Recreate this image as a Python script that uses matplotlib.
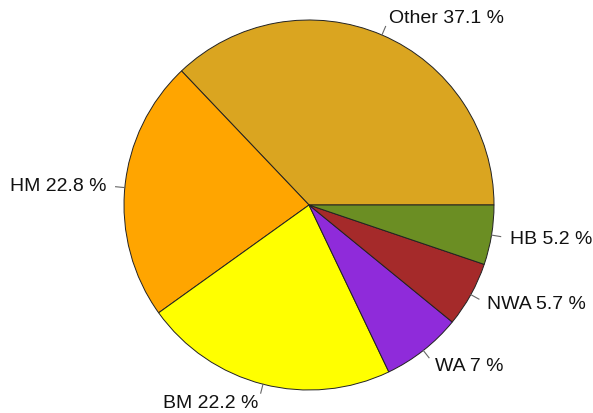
import matplotlib as mpl
mpl.use("Agg")
import matplotlib.pyplot as plt
import numpy as np

mpl.rcParams["font.family"] = ["Liberation Sans", "DejaVu Sans"]

# ── Data ──────────────────────────────────────────────────────────────────────
REGIONS = ["Other", "HM", "BM", "WA", "NWA", "HB"]
SHARES = [37.1, 22.8, 22.2, 7, 5.7, 5.2]
LABELS = ["Other 37.1 %", "HM 22.8 %", "BM 22.2 %", "WA 7 %", "NWA 5.7 %", "HB 5.2 %"]
COLORS = ["#DAA520", "#FFA500", "#FFFF00", "#8F2BDA", "#A52A2A", "#6B8E23"]

W, H = 593, 414
CX, CY = 309, H - 206
R = 185

fig = plt.figure(figsize=(W / 100, H / 100), dpi=100)
ax = fig.add_axes([0, 0, 1, 1])

wedges, _ = ax.pie(SHARES, colors=COLORS, startangle=0, counterclock=True,
                   radius=R, center=(CX, CY), frame=True,
                   wedgeprops=dict(edgecolor="#222222", linewidth=0.7))
ax.set_xlim(0, W)
ax.set_ylim(0, H)
ax.set_aspect("equal")
ax.axis("off")

# R-style labels: tick from 1.0 to 1.05, text at 1.1
for w, lab in zip(wedges, LABELS):
    ang = np.deg2rad((w.theta1 + w.theta2) / 2)
    c, s = np.cos(ang), np.sin(ang)
    ax.plot([CX + R * c, CX + 1.05 * R * c], [CY + R * s, CY + 1.05 * R * s],
            color="#666666", lw=0.8)
    ax.text(CX + 1.1 * R * c, CY + 1.1 * R * s, lab,
            ha="left" if c >= 0 else "right", va="center",
            fontsize=14, color="#111111")

fig.savefig("out.png", dpi=100)
